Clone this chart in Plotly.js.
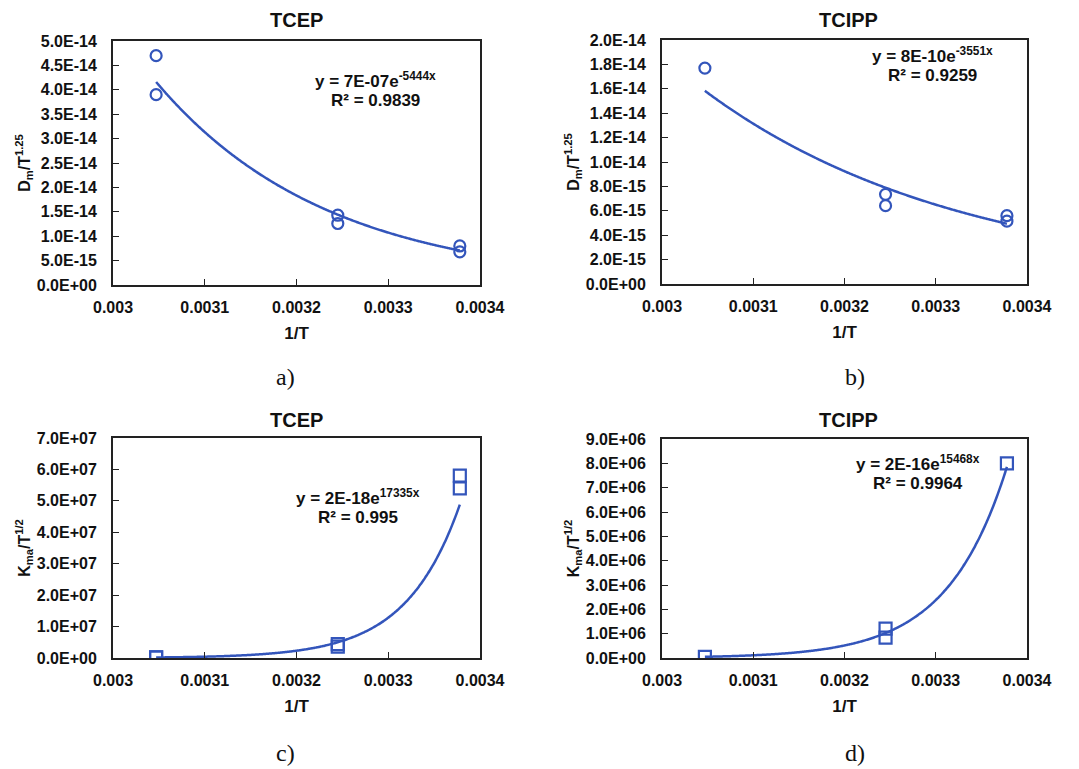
<!DOCTYPE html>
<html>
<head>
<meta charset="utf-8">
<script src="https://cdn.plot.ly/plotly-3.0.1.min.js"></script>
<style>html,body{margin:0;padding:0;background:#fff;}#chart{width:1079px;height:769px;}</style>
</head>
<body>
<div id="chart"></div>
<script>
// ---- data ----
const invT_Dm_TCEP = [0.003047, 0.003047, 0.003245, 0.003245, 0.003378, 0.003378];
const Dm_TCEP      = [4.70e-14, 3.90e-14, 1.43e-14, 1.26e-14, 8.0e-15, 6.8e-15];
const invT_Dm_TCIPP = [0.003047, 0.003245, 0.003245, 0.003378, 0.003378];
const Dm_TCIPP      = [1.77e-14, 7.35e-15, 6.42e-15, 5.6e-15, 5.15e-15];
const invT_K_TCEP = [0.003047, 0.003047, 0.003245, 0.003245, 0.003378, 0.003378];
const K_TCEP      = [1.9e5, 1.8e5, 4.4e6, 3.6e6, 5.8e7, 5.4e7];
const invT_K_TCIPP = [0.003047, 0.003245, 0.003245, 0.003378];
const K_TCIPP      = [5.0e4, 1.21e6, 8.4e5, 8.0e6];

const panelTitles = ["TCEP", "TCIPP", "TCEP", "TCIPP"];
const panelLetters = ["a)", "b)", "c)", "d)"];
const eqText = ["y = 7E-07e<sup>-5444x</sup>", "y = 8E-10e<sup>-3551x</sup>", "y = 2E-18e<sup>17335x</sup>", "y = 2E-16e<sup>15468x</sup>"];
const r2Text = ["R² = 0.9839", "R² = 0.9259", "R² = 0.995", "R² = 0.9964"];
const yTitles = ["D<sub>m</sub>/T<sup>1.25</sup>", "D<sub>m</sub>/T<sup>1.25</sup>", "K<sub>ma</sub>/T<sup>1/2</sup>", "K<sub>ma</sub>/T<sup>1/2</sup>"];

const xTickVals = [0.003, 0.0031, 0.0032, 0.0033, 0.0034];
const xTickText = ["0.003", "0.0031", "0.0032", "0.0033", "0.0034"];

const yTickValsA = [0, 5e-15, 1e-14, 1.5e-14, 2e-14, 2.5e-14, 3e-14, 3.5e-14, 4e-14, 4.5e-14, 5e-14];
const yTickTextA = ["0.0E+00","5.0E-15","1.0E-14","1.5E-14","2.0E-14","2.5E-14","3.0E-14","3.5E-14","4.0E-14","4.5E-14","5.0E-14"];
const yTickValsB = [0, 2e-15, 4e-15, 6e-15, 8e-15, 1e-14, 1.2e-14, 1.4e-14, 1.6e-14, 1.8e-14, 2e-14];
const yTickTextB = ["0.0E+00","2.0E-15","4.0E-15","6.0E-15","8.0E-15","1.0E-14","1.2E-14","1.4E-14","1.6E-14","1.8E-14","2.0E-14"];
const yTickValsC = [0, 1e7, 2e7, 3e7, 4e7, 5e7, 6e7, 7e7];
const yTickTextC = ["0.0E+00","1.0E+07","2.0E+07","3.0E+07","4.0E+07","5.0E+07","6.0E+07","7.0E+07"];
const yTickValsD = [0, 1e6, 2e6, 3e6, 4e6, 5e6, 6e6, 7e6, 8e6, 9e6];
const yTickTextD = ["0.0E+00","1.0E+06","2.0E+06","3.0E+06","4.0E+06","5.0E+06","6.0E+06","7.0E+06","8.0E+06","9.0E+06"];

// ---- exponential trendline (least squares on ln y, as a spreadsheet does) ----
function expFit(xs, ys) {
  const n = xs.length;
  const ly = ys.map(v => Math.log(v));
  const mx = xs.reduce((a, b) => a + b, 0) / n;
  const my = ly.reduce((a, b) => a + b, 0) / n;
  let sxy = 0, sxx = 0;
  for (let i = 0; i < n; i++) { sxy += (xs[i] - mx) * (ly[i] - my); sxx += (xs[i] - mx) ** 2; }
  const b = sxy / sxx, a = Math.exp(my - b * mx);
  const x0 = Math.min(...xs), x1 = Math.max(...xs);
  const cx = [], cy = [];
  for (let i = 0; i <= 200; i++) { const x = x0 + (x1 - x0) * i / 200; cx.push(x); cy.push(a * Math.exp(b * x)); }
  return {x: cx, y: cy};
}

const BLUE = "#3355bb";
const sets = [
  {x: invT_Dm_TCEP, y: Dm_TCEP, sym: "circle-open", size: 11},
  {x: invT_Dm_TCIPP, y: Dm_TCIPP, sym: "circle-open", size: 11},
  {x: invT_K_TCEP, y: K_TCEP, sym: "square-open", size: 12},
  {x: invT_K_TCIPP, y: K_TCIPP, sym: "square-open", size: 12}
];
const traces = [];
sets.forEach((s, i) => {
  const ax = i === 0 ? "" : String(i + 1);
  const fit = expFit(s.x, s.y);
  traces.push({x: fit.x, y: fit.y, type: "scatter", mode: "lines", line: {color: BLUE, width: 2.5, shape: "spline"}, xaxis: "x" + ax, yaxis: "y" + ax, hoverinfo: "skip"});
  traces.push({x: s.x, y: s.y, type: "scatter", mode: "markers", marker: {symbol: s.sym, size: s.size, color: BLUE, line: {width: 2.2, color: BLUE}}, xaxis: "x" + ax, yaxis: "y" + ax});
});

const W = 1079, H = 769;
const boxes = [ // plot areas in pixels [left, right, top, bottom]
  [113, 480, 41, 285],
  [662, 1027, 40, 284],
  [113, 480, 438, 658],
  [662, 1027, 439, 658]
];
const yRanges = [[0, 5e-14], [0, 2e-14], [0, 7e7], [0, 9e6]];
const yTV = [yTickValsA, yTickValsB, yTickValsC, yTickValsD];
const yTT = [yTickTextA, yTickTextB, yTickTextC, yTickTextD];
const SANS = "Liberation Sans, Arial, sans-serif";
const tickFont = {family: SANS, size: 16, color: "#111", weight: "bold"};
const boldF = (s) => ({family: SANS, size: s, color: "#111", weight: "bold"});

const layout = {
  width: W, height: H, margin: {l: 0, r: 0, t: 0, b: 0},
  paper_bgcolor: "#fff", plot_bgcolor: "#fff", showlegend: false,
  annotations: []
};
boxes.forEach((b, i) => {
  const ax = i === 0 ? "" : String(i + 1);
  layout["xaxis" + ax] = {
    domain: [b[0] / W, b[1] / W], anchor: "y" + ax, range: [0.003, 0.0034],
    tickvals: xTickVals, ticktext: xTickText, ticks: "inside", ticklen: 6, tickwidth: 1, tickcolor: "#222",
    showline: true, mirror: true, linecolor: "#222", linewidth: 2, showgrid: false, zeroline: false,
    tickfont: tickFont, ticklabelstandoff: 7, fixedrange: true,
    title: {text: "1/T", font: boldF(17), standoff: 12}
  };
  layout["yaxis" + ax] = {
    domain: [1 - b[3] / H, 1 - b[2] / H], anchor: "x" + ax, range: yRanges[i],
    tickvals: yTV[i], ticktext: yTT[i], ticks: "inside", ticklen: 6, tickwidth: 1, tickcolor: "#222",
    showline: true, mirror: true, linecolor: "#222", linewidth: 2, showgrid: false, zeroline: false,
    tickfont: tickFont, ticklabelstandoff: 11, fixedrange: true,
    title: {text: yTitles[i], font: boldF(16), standoff: 2}
  };
});

function ann(text, px, py, font, extra) {
  layout.annotations.push(Object.assign({
    text: text, x: px / W, y: 1 - py / H, xref: "paper", yref: "paper",
    xanchor: "center", yanchor: "middle", showarrow: false, font: font
  }, extra || {}));
}
const titlePos = [[296, 20], [848, 20], [296, 420], [848, 420]];
const eqPos = [[375, 80, 100], [932, 55, 75], [358, 497, 517], [918, 463, 483]];
const letterPos = [[285, 377], [855, 377], [285, 753], [855, 753]];
for (let i = 0; i < 4; i++) {
  ann(panelTitles[i], titlePos[i][0], titlePos[i][1], boldF(20));
  ann(eqText[i], eqPos[i][0], eqPos[i][1], boldF(17));
  ann(r2Text[i], eqPos[i][0], eqPos[i][2], boldF(17));
  ann(panelLetters[i], letterPos[i][0], letterPos[i][1], {family: "Liberation Serif, Times New Roman, serif", size: 24, color: "#111"});
}

Plotly.newPlot("chart", traces, layout, {displayModeBar: false});
</script>
</body>
</html>
